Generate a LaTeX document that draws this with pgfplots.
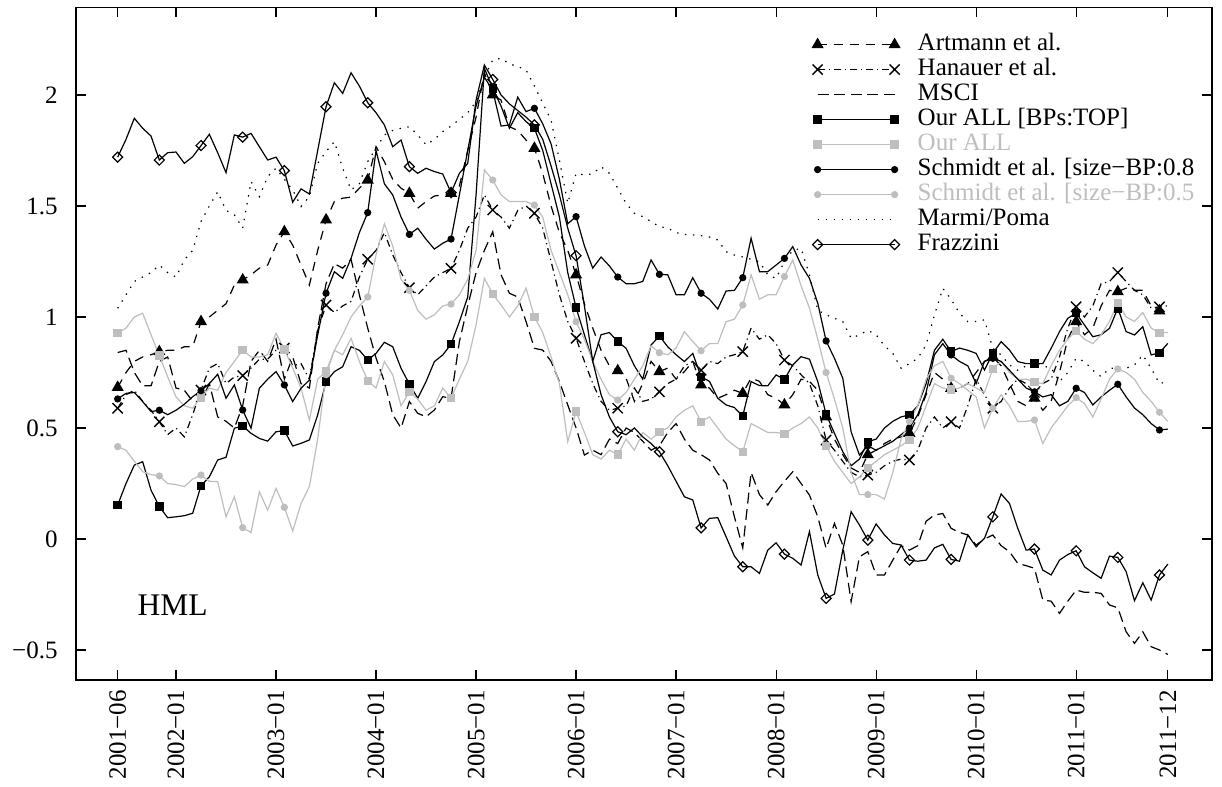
\documentclass[border=0pt]{standalone}
\usepackage{fontspec}
\setmainfont{Liberation Serif}
\usepackage{pgfplots}
\pgfplotsset{compat=1.18}
\usepackage{pgfplotstable}
\definecolor{lgray}{RGB}{190,190,190}

\pgfplotstableread{
m A H M OB OA S8 S5 MP F
0 0.683 0.589 0.84 0.153 0.927 0.631 0.416 1.039 1.72
1 0.75 0.65 0.85 0.25 0.95 0.656 0.40 1.10 1.80
2 0.80 0.67 0.75 0.333 1.00 0.66 0.35 1.16 1.895
3 0.82 0.62 0.69 0.348 1.017 0.619 0.303 1.18 1.85
4 0.83 0.58 0.69 0.22 0.92 0.574 0.29 1.20 1.815
5 0.844 0.528 0.80 0.146 0.826 0.58 0.284 1.234 1.707
6 0.85 0.47 0.82 0.096 0.73 0.56 0.25 1.20 1.74
7 0.85 0.50 0.68 0.10 0.64 0.58 0.245 1.18 1.743
8 0.866 0.46 0.67 0.105 0.60 0.607 0.236 1.257 1.692
9 0.866 0.56 0.62 0.116 0.589 0.641 0.27 1.30 1.722
10 0.979 0.671 0.62 0.24 0.637 0.668 0.288 1.43 1.772
11 1.00 0.77 0.70 0.28 0.68 0.70 0.26 1.50 1.823
12 1.03 0.79 0.55 0.356 0.67 0.742 0.258 1.564 1.74
13 1.06 0.70 0.53 0.368 0.75 0.634 0.10 1.48 1.65
14 1.144 0.73 0.50 0.499 0.80 0.694 0.19 1.46 1.82
15 1.167 0.736 0.60 0.509 0.851 0.581 0.051 1.40 1.81
16 1.19 0.77 0.80 0.476 0.82 0.499 0.029 1.61 1.827
17 1.22 0.81 0.85 0.453 0.82 0.679 0.213 1.542 1.767
18 1.234 0.81 0.80 0.441 0.83 0.72 0.13 1.632 1.707
19 1.324 0.85 0.90 0.483 0.927 0.754 0.228 1.67 1.72
20 1.384 0.86 0.72 0.488 0.854 0.694 0.143 1.62 1.659
21 1.324 0.78 0.82 0.419 0.77 0.619 0.036 1.572 1.517
22 1.234 0.79 0.70 0.431 0.68 0.679 0.16 1.497 1.577
23 1.144 0.72 0.68 0.446 0.536 0.716 0.236 1.542 1.554
24 1.30 0.94 0.95 0.559 0.72 0.919 0.45 1.692 1.75
25 1.437 1.054 1.15 0.709 0.754 1.107 0.74 1.745 1.947
26 1.52 1.02 1.24 0.754 0.85 1.204 0.85 1.79 2.055
27 1.535 1.05 1.22 0.776 0.83 1.174 0.92 1.67 2.007
28 1.54 1.07 1.26 0.866 0.904 1.264 1.0 1.572 2.10
29 1.58 1.18 1.10 0.85 0.80 1.38 1.05 1.60 2.04
30 1.617 1.26 0.95 0.806 0.713 1.47 1.09 1.70 1.965
31 1.767 1.30 0.815 0.836 0.68 1.75 1.28 1.76 1.92
32 1.70 1.38 0.709 0.886 0.799 1.60 1.42 1.82 1.865
33 1.62 1.28 0.56 0.866 0.74 1.55 1.32 1.84 1.767
34 1.58 1.20 0.50 0.769 0.60 1.45 1.17 1.85 1.797
35 1.557 1.132 0.619 0.698 0.663 1.372 1.12 1.857 1.677
36 1.49 1.10 0.566 0.634 0.63 1.40 1.03 1.82 1.647
37 1.52 1.14 0.551 0.709 0.58 1.35 0.99 1.775 1.67
38 1.545 1.18 0.581 0.799 0.60 1.306 1.01 1.80 1.655
39 1.55 1.20 0.641 0.829 0.68 1.332 1.05 1.835 1.644
40 1.557 1.219 0.634 0.877 0.634 1.351 1.058 1.86 1.56
41 1.59 1.30 0.889 0.979 0.72 1.55 1.10 1.89 1.647
42 1.75 1.40 1.05 1.09 0.80 1.75 1.17 1.92 1.692
43 1.90 1.45 1.20 1.55 0.964 1.95 1.30 1.97 1.977
44 2.10 1.55 1.30 2.12 1.174 2.08 1.662 2.08 2.135
45 2.00 1.482 1.384 2.03 1.104 2.02 1.617 2.158 2.07
46 1.977 1.45 1.19 1.95 1.054 1.86 1.55 2.165 2.00
47 1.857 1.40 1.107 1.85 1.00 1.865 1.52 2.14 1.96
48 1.84 1.48 1.09 1.92 1.05 1.99 1.52 2.128 1.93
49 1.797 1.50 0.979 1.88 1.13 1.925 1.52 2.113 1.90
50 1.76 1.467 0.859 1.85 1.00 1.94 1.504 2.04 1.865
51 1.647 1.40 0.851 1.75 0.93 1.87 1.45 1.963 1.80
52 1.50 1.25 0.80 1.60 0.82 1.78 1.30 1.887 1.68
53 1.38 1.10 0.709 1.45 0.70 1.62 1.20 1.707 1.55
54 1.30 0.98 0.604 1.20 0.438 1.42 1.10 1.512 1.40
55 1.19 0.904 0.50 1.042 0.574 1.452 0.979 1.647 1.276
56 1.06 0.80 0.378 0.92 0.48 1.32 0.90 1.64 1.05
57 0.95 0.70 0.40 0.80 0.38 1.22 0.80 1.645 0.80
58 0.85 0.62 0.38 0.92 0.36 1.27 0.72 1.677 0.65
59 0.78 0.58 0.45 0.93 0.40 1.23 0.65 1.647 0.55
60 0.758 0.589 0.43 0.889 0.38 1.18 0.626 1.58 0.483
61 0.724 0.60 0.50 0.859 0.45 1.15 0.66 1.512 0.47
62 0.62 0.68 0.48 0.78 0.40 1.15 0.72 1.467 0.50
63 0.70 0.62 0.44 0.72 0.48 1.16 0.78 1.452 0.46
64 0.80 0.63 0.40 0.874 0.45 1.257 0.87 1.43 0.43
65 0.754 0.663 0.42 0.914 0.483 1.192 0.839 1.407 0.393
66 0.77 0.70 0.48 0.866 0.50 1.19 0.83 1.40 0.33
67 0.72 0.72 0.52 0.83 0.55 1.10 0.86 1.38 0.26
68 0.754 0.78 0.45 0.799 0.58 1.10 0.934 1.372 0.19
69 0.80 0.80 0.40 0.836 0.60 1.177 0.89 1.37 0.176
70 0.694 0.76 0.38 0.731 0.528 1.107 0.848 1.366 0.05
71 0.68 0.80 0.356 0.71 0.55 1.08 0.88 1.36 0.093
72 0.634 0.79 0.296 0.634 0.50 1.036 0.88 1.347 0.096
73 0.65 0.82 0.25 0.604 0.45 1.117 0.979 1.294 0.01
74 0.67 0.83 0.10 0.592 0.42 1.12 0.99 1.279 -0.077
75 0.656 0.844 -0.04 0.554 0.393 1.177 1.054 1.27 -0.125
76 0.725 0.95 0.30 0.709 0.52 1.355 1.19 1.26 -0.125
77 0.71 0.90 0.20 0.691 0.50 1.204 1.08 1.249 -0.155
78 0.65 0.92 0.153 0.69 0.48 1.204 1.10 1.19 -0.05
79 0.634 0.88 0.213 0.739 0.48 1.234 1.10 1.174 -0.017
80 0.604 0.806 0.26 0.719 0.473 1.264 1.182 1.25 -0.068
81 0.65 0.78 0.303 0.784 0.50 1.317 1.257 1.30 -0.087
82 0.72 0.74 0.25 0.821 0.52 1.234 1.14 1.309 -0.117
83 0.71 0.70 0.198 0.81 0.55 1.174 1.04 1.19 0.033
84 0.67 0.60 0.10 0.709 0.50 1.062 0.90 1.03 -0.162
85 0.55 0.446 -0.042 0.562 0.42 0.892 0.75 1.01 -0.267
86 0.45 0.40 0.07 0.476 0.35 0.814 0.63 0.994 -0.248
87 0.38 0.35 -0.027 0.393 0.30 0.724 0.50 0.979 -0.05
88 0.32 0.30 -0.282 0.33 0.25 0.483 0.30 0.904 0.123
89 0.30 0.28 -0.08 0.36 0.28 0.378 0.20 0.92 0.063
90 0.38 0.288 -0.057 0.438 0.32 0.42 0.20 0.94 -0.005
91 0.40 0.30 -0.162 0.45 0.35 0.40 0.20 0.92 0.068
92 0.43 0.33 -0.162 0.50 0.38 0.42 0.18 0.87 0.018
93 0.45 0.35 -0.095 0.53 0.40 0.44 0.30 0.836 -0.02
94 0.46 0.36 -0.03 0.55 0.42 0.47 0.45 0.769 -0.027
95 0.476 0.356 -0.05 0.559 0.446 0.50 0.53 0.79 -0.095
96 0.55 0.40 -0.03 0.60 0.50 0.56 0.60 0.814 -0.10
97 0.65 0.50 0.08 0.70 0.60 0.66 0.72 0.874 -0.095
98 0.75 0.55 0.108 0.85 0.70 0.83 0.78 1.009 -0.04
99 0.72 0.50 0.115 0.90 0.68 0.88 0.80 1.129 -0.024
100 0.679 0.528 0.048 0.844 0.674 0.829 0.724 1.08 -0.092
101 0.68 0.50 0.03 0.86 0.68 0.80 0.70 1.017 -0.10
102 0.70 0.60 0.018 0.85 0.70 0.78 0.67 0.979 0.018
103 0.75 0.72 -0.027 0.836 0.68 0.70 0.64 0.98 -0.035
104 0.80 0.65 0.0 0.761 0.66 0.80 0.50 0.987 0.003
105 0.82 0.589 0.018 0.836 0.766 0.814 0.589 0.859 0.10
106 0.78 0.62 -0.03 0.889 0.80 0.80 0.65 0.829 0.203
107 0.70 0.68 -0.057 0.851 0.75 0.76 0.60 0.784 0.16
108 0.62 0.72 -0.11 0.799 0.72 0.72 0.529 0.76 0.048
109 0.60 0.70 -0.12 0.79 0.72 0.68 0.53 0.78 -0.05
110 0.634 0.66 -0.132 0.79 0.706 0.663 0.536 0.799 -0.045
111 0.58 0.70 -0.275 0.79 0.70 0.64 0.43 0.78 -0.14
112 0.62 0.72 -0.28 0.859 0.78 0.65 0.50 0.77 -0.162
113 0.75 0.82 -0.335 0.934 0.85 0.60 0.55 0.709 -0.095
114 0.90 0.95 -0.28 0.994 0.90 0.62 0.60 0.75 -0.07
115 0.979 1.046 -0.23 1.017 0.937 0.679 0.637 0.814 -0.053
116 0.92 1.00 -0.24 0.964 0.90 0.66 0.61 0.80 -0.125
117 0.95 1.05 -0.24 0.911 0.88 0.604 0.55 0.76 -0.152
118 1.05 1.15 -0.245 0.92 0.92 0.64 0.63 0.731 -0.177
119 1.12 1.16 -0.297 0.949 0.98 0.67 0.72 0.769 -0.077
120 1.114 1.20 -0.31 1.039 1.064 0.697 0.766 0.77 -0.083
121 1.13 1.16 -0.418 0.934 1.00 0.64 0.75 0.769 -0.147
122 1.12 1.12 -0.47 0.919 0.98 0.59 0.72 0.784 -0.278
123 1.12 1.10 -0.418 0.956 1.02 0.56 0.66 0.829 -0.197
124 1.05 1.04 -0.485 0.829 0.95 0.52 0.62 0.769 -0.275
125 1.027 1.046 -0.50 0.839 0.929 0.491 0.571 0.70 -0.162
126 1.03 1.05 -0.52 0.881 0.93 0.495 0.53 0.709 -0.113
}\data

\begin{document}
\begin{tikzpicture}
\begin{axis}[
  scale only axis, width=568pt, height=336.25pt,
  xmin=-5, xmax=131.3, ymin=-0.635, ymax=2.394,
  axis line style={line width=0.7pt},
  tick align=inside, major tick length=5pt,
  tick style={line width=0.6pt, black},
  xtick={0,7,19,31,43,55,67,79,91,103,115,126},
  xticklabels={2001−06,2002−01,2003−01,2004−01,2005−01,2006−01,2007−01,2008−01,2009−01,2010−01,2011−01,2011−12},
  xticklabel style={yshift=-5pt, rotate=90, anchor=east, inner sep=0pt, font=\fontsize{12.5}{15}\selectfont},
  ytick={-0.5,0,0.5,1,1.5,2},
  yticklabels={−0.5,0,0.5,1,1.5,2},
  yticklabel style={xshift=-9pt, anchor=east, inner sep=0pt, font=\fontsize{12.5}{15}\selectfont},
  every axis plot/.append style={line width=0.6pt, mark repeat=5, mark phase=1},
  legend image code/.code={\draw[#1, mark repeat=1, mark phase=1] plot coordinates {(0pt,0pt) (38.5pt,0pt)};},
  legend style={draw=none, fill=none, at={(0.648,0.964)}, anchor=north west,
    font=\fontsize{12.5}{12.5}\selectfont, inner sep=0pt, row sep=0pt, column sep=9pt,
    nodes={inner sep=0pt, text height=9pt, text depth=3.5pt}},
  legend cell align=left,
]
\addplot[black, dash pattern=on 4.5pt off 3.5pt, mark=triangle*, mark size=2.9pt, mark options={solid, fill=black}] table[x=m,y=A]{\data};
\addlegendentry{Artmann et al.}
\addplot[black, dash pattern=on 3.5pt off 2pt on 0.6pt off 2pt, mark=x, mark size=3.6pt, mark options={solid, line width=0.7pt}] table[x=m,y=H]{\data};
\addlegendentry{Hanauer et al.}
\addplot[black, dash pattern=on 5.5pt off 2.8pt, mark=none] table[x=m,y=M]{\data};
\addlegendentry{MSCI}
\addplot[black, solid, mark=square*, mark size=1.8pt, mark options={solid, fill=black}] table[x=m,y=OB]{\data};
\addlegendentry{Our ALL [BPs:TOP]}
\addplot[lgray, solid, mark=square*, mark size=1.8pt, mark options={solid, fill=lgray}] table[x=m,y=OA]{\data};
\addlegendentry{\textcolor{lgray}{Our ALL}}
\addplot[black, solid, mark=*, mark size=1.5pt, mark options={solid, fill=black}] table[x=m,y=S8]{\data};
\addlegendentry{Schmidt et al. [size−BP:0.8}
\addplot[lgray, solid, mark=*, mark size=1.5pt, mark options={solid, fill=lgray}] table[x=m,y=S5]{\data};
\addlegendentry{\textcolor{lgray}{Schmidt et al. [size−BP:0.5}}
\addplot[black, dash pattern=on 0.7pt off 3.3pt, mark=none] table[x=m,y=MP]{\data};
\addlegendentry{Marmi/Poma}
\addplot[black, solid, mark=square, mark size=1.77pt, mark options={solid, rotate=45}] table[x=m,y=F]{\data};
\addlegendentry{Frazzini}
\node[inner sep=0pt, font=\fontsize{15.75}{18}\selectfont] at (axis cs:6.6,-0.30) {HML};
\end{axis}
\pgfresetboundingbox
\path (current axis.south west) ++(-38pt,-53.5pt) rectangle ++(611pt,393.5pt);
\end{tikzpicture}
\end{document}
